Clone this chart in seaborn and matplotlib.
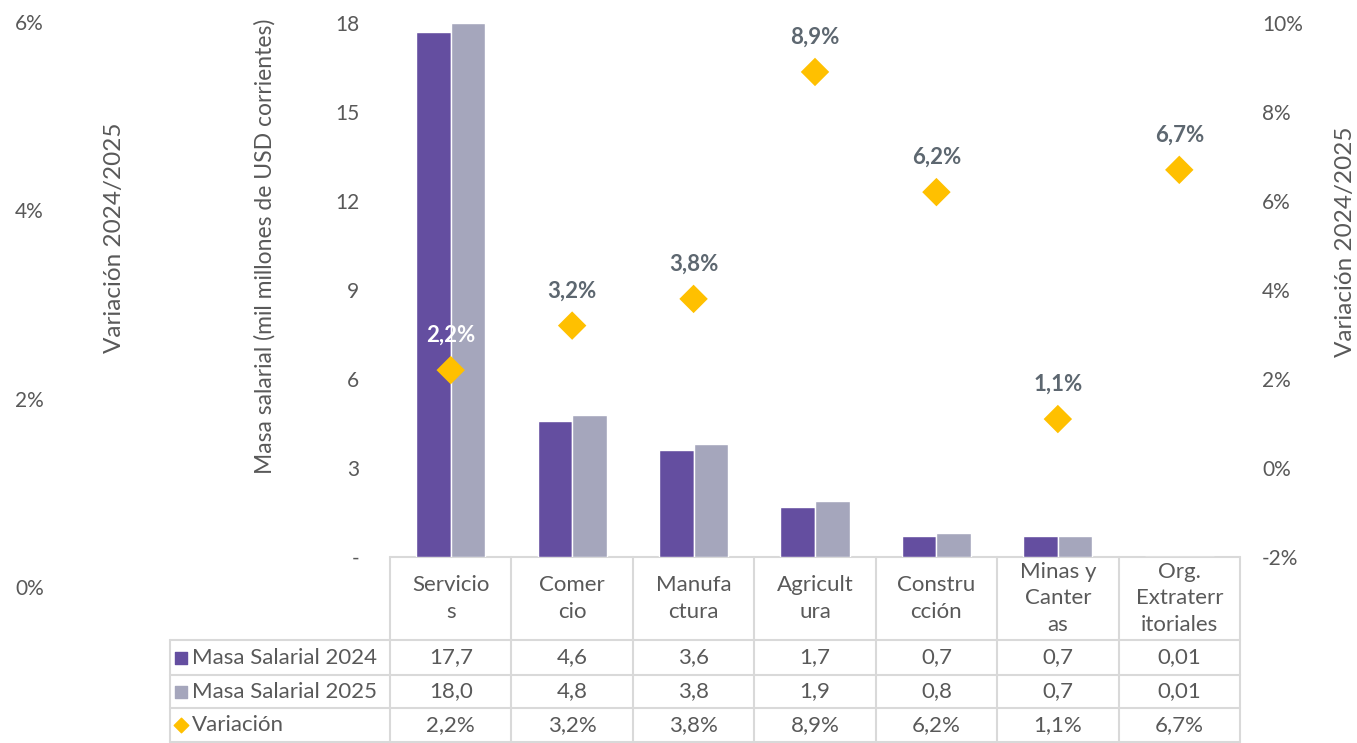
import matplotlib

matplotlib.use("Agg")
import matplotlib.pyplot as plt
import numpy as np
import pandas as pd
import seaborn as sns

sns.set_theme(style="white")
plt.rcParams["font.family"] = ["Lato", "DejaVu Sans"]

# --- data -------------------------------------------------------------------
sectores = ["Servicios", "Comercio", "Manufactura", "Agricultura",
            "Construcción", "Minas y Canteras", "Org. Extraterritoriales"]
encabezados = ["Servicio\ns", "Comer\ncio", "Manufa\nctura", "Agricult\nura",
               "Constru\ncción", "Minas y\nCanter\nas", "Org.\nExtraterr\nitoriales"]
masa_2024 = [17.7, 4.6, 3.6, 1.7, 0.7, 0.7, 0.01]
masa_2025 = [18.0, 4.8, 3.8, 1.9, 0.8, 0.7, 0.01]
variacion = [0.022, 0.032, 0.038, 0.089, 0.062, 0.011, 0.067]

serie_2024 = "Masa Salarial 2024"
serie_2025 = "Masa Salarial 2025"
serie_var = "Variación"

left_ticks = [0, 3, 6, 9, 12, 15, 18]
left_ticklabels = ["-", "3", "6", "9", "12", "15", "18"]
right_ticks = [-0.02, 0.0, 0.02, 0.04, 0.06, 0.08, 0.10]
far_ticks = [0.0, 0.02, 0.04, 0.06]

PURPLE = "#644EA0"
GREY = "#A5A6BC"
GOLD = "#FFC000"
TXT = "#595959"
LBL = "#5D6770"
GRID = "#D9D9D9"
TICK_FS = 15
TABLE_FS = 16


def fmt_num(v):
    s = f"{v:.2f}" if v < 0.1 else f"{v:.1f}"
    return s.replace(".", ",")


def fmt_pct(v):
    return f"{v * 100:.1f}%".replace(".", ",")


df = pd.DataFrame({
    "sector": sectores * 2,
    "valor": masa_2024 + masa_2025,
    "serie": [serie_2024] * len(sectores) + [serie_2025] * len(sectores),
})

W, H = 1357, 743
fig = plt.figure(figsize=(W / 100, H / 100), dpi=100)


def px(x0, y0, x1, y1):
    """pixel box -> figure fraction rect"""
    return [x0 / W, 1 - y1 / H, (x1 - x0) / W, (y1 - y0) / H]


ax = fig.add_axes(px(390, 23, 1240, 557))
sns.barplot(data=df, x="sector", y="valor", hue="serie", order=sectores,
            palette={serie_2024: PURPLE, serie_2025: GREY}, width=0.57,
            saturation=1, legend=False, ax=ax)
ax.set_xlim(-0.5, len(sectores) - 0.5)
ax.set_ylim(0, 18)
ax.set_xticks([])
ax.set_xlabel("")
ax.set_yticks(left_ticks)
ax.set_yticklabels(left_ticklabels)
ax.tick_params(axis="y", length=0, pad=22, labelsize=TICK_FS, labelcolor=TXT)
ax.set_ylabel("Masa salarial (mil millones de USD corrientes)", fontsize=16.5,
              color=TXT, va="center")
ax.yaxis.set_label_coords((265 - 390) / 850, (557 - 246) / 534)
for s in ax.spines.values():
    s.set_visible(False)

# secondary axis: variation
ax2 = ax.twinx()
sns.scatterplot(x=np.arange(len(sectores)), y=variacion, marker="D", s=210,
                color=GOLD, edgecolor="none", ax=ax2, zorder=5)
ax2.set_ylim(-0.02, 0.10)
ax2.set_yticks(right_ticks)
ax2.set_yticklabels([f"{t * 100:.0f}%" for t in right_ticks])
ax2.tick_params(axis="y", length=0, pad=16, labelsize=TICK_FS, labelcolor=TXT)
ax2.set_ylabel("Variación 2024/2025", fontsize=17.5, color=TXT, va="center",
               rotation=90)
ax2.yaxis.set_label_coords((1345 - 390) / 850, (557 - 242) / 534)
for s in ax2.spines.values():
    s.set_visible(False)
for i, v in enumerate(variacion):
    ax2.annotate(fmt_pct(v), (i, v), xytext=(0, 25), textcoords="offset points",
                 ha="center", va="center", fontsize=16, fontweight="bold",
                 color="white" if i == 0 else LBL)

# far-left extra axis
ax3 = fig.add_axes(px(52, 22, 53, 587))
ax3.set_ylim(0, 0.06)
ax3.set_yticks(far_ticks)
ax3.set_yticklabels([f"{t * 100:.0f}%" for t in far_ticks])
ax3.set_xticks([])
ax3.tick_params(axis="y", length=0, pad=6, labelsize=TICK_FS, labelcolor=TXT)
ax3.patch.set_visible(False)
for s in ax3.spines.values():
    s.set_visible(False)
fig.text(115 / W, 1 - 238 / H, "Variación 2024/2025", rotation=90, ha="center",
         va="center", fontsize=17.5, color=TXT)

# --- data table below the plot ----------------------------------------------
tr = ax.get_xaxis_transform()
n = len(sectores)
label_left = (170 - 390) / 121.43 - 0.5
y_head = (557 - 640) / 534
y_rows = [y_head, (557 - 675) / 534, (557 - 708) / 534, (557 - 742) / 534]
line_kw = dict(color=GRID, lw=1.5, transform=tr, clip_on=False, zorder=0)

ax.plot([-0.5, n - 0.5], [0, 0], **line_kw)
for yb in y_rows:
    ax.plot([label_left, n - 0.5], [yb, yb], **line_kw)
for k in range(n + 1):
    ax.plot([k - 0.5, k - 0.5], [0, y_rows[-1]], **line_kw)
ax.plot([label_left, label_left], [y_head, y_rows[-1]], **line_kw)

for i, h in enumerate(encabezados):
    ax.text(i, y_head / 2, h, transform=tr, ha="center", va="center",
            fontsize=TABLE_FS, color=TXT, linespacing=1.4)

row_vals = [[fmt_num(v) for v in masa_2024],
            [fmt_num(v) for v in masa_2025],
            [fmt_pct(v) for v in variacion]]
row_names = [serie_2024, serie_2025, serie_var]
row_marks = [("s", PURPLE), ("s", GREY), ("D", GOLD)]
for r in range(3):
    yc = (y_rows[r] + y_rows[r + 1]) / 2
    for i, t in enumerate(row_vals[r]):
        ax.text(i, yc, t, transform=tr, ha="center", va="center",
                fontsize=TABLE_FS, color=TXT)
    mk, col = row_marks[r]
    ax.scatter([label_left + 0.09], [yc], marker=mk, s=70 if mk == "s" else 55,
               color=col, transform=tr, clip_on=False)
    ax.text(label_left + 0.18, yc, row_names[r], transform=tr, ha="left",
            va="center", fontsize=TABLE_FS, color=TXT)

fig.savefig("out.png", dpi=100)
